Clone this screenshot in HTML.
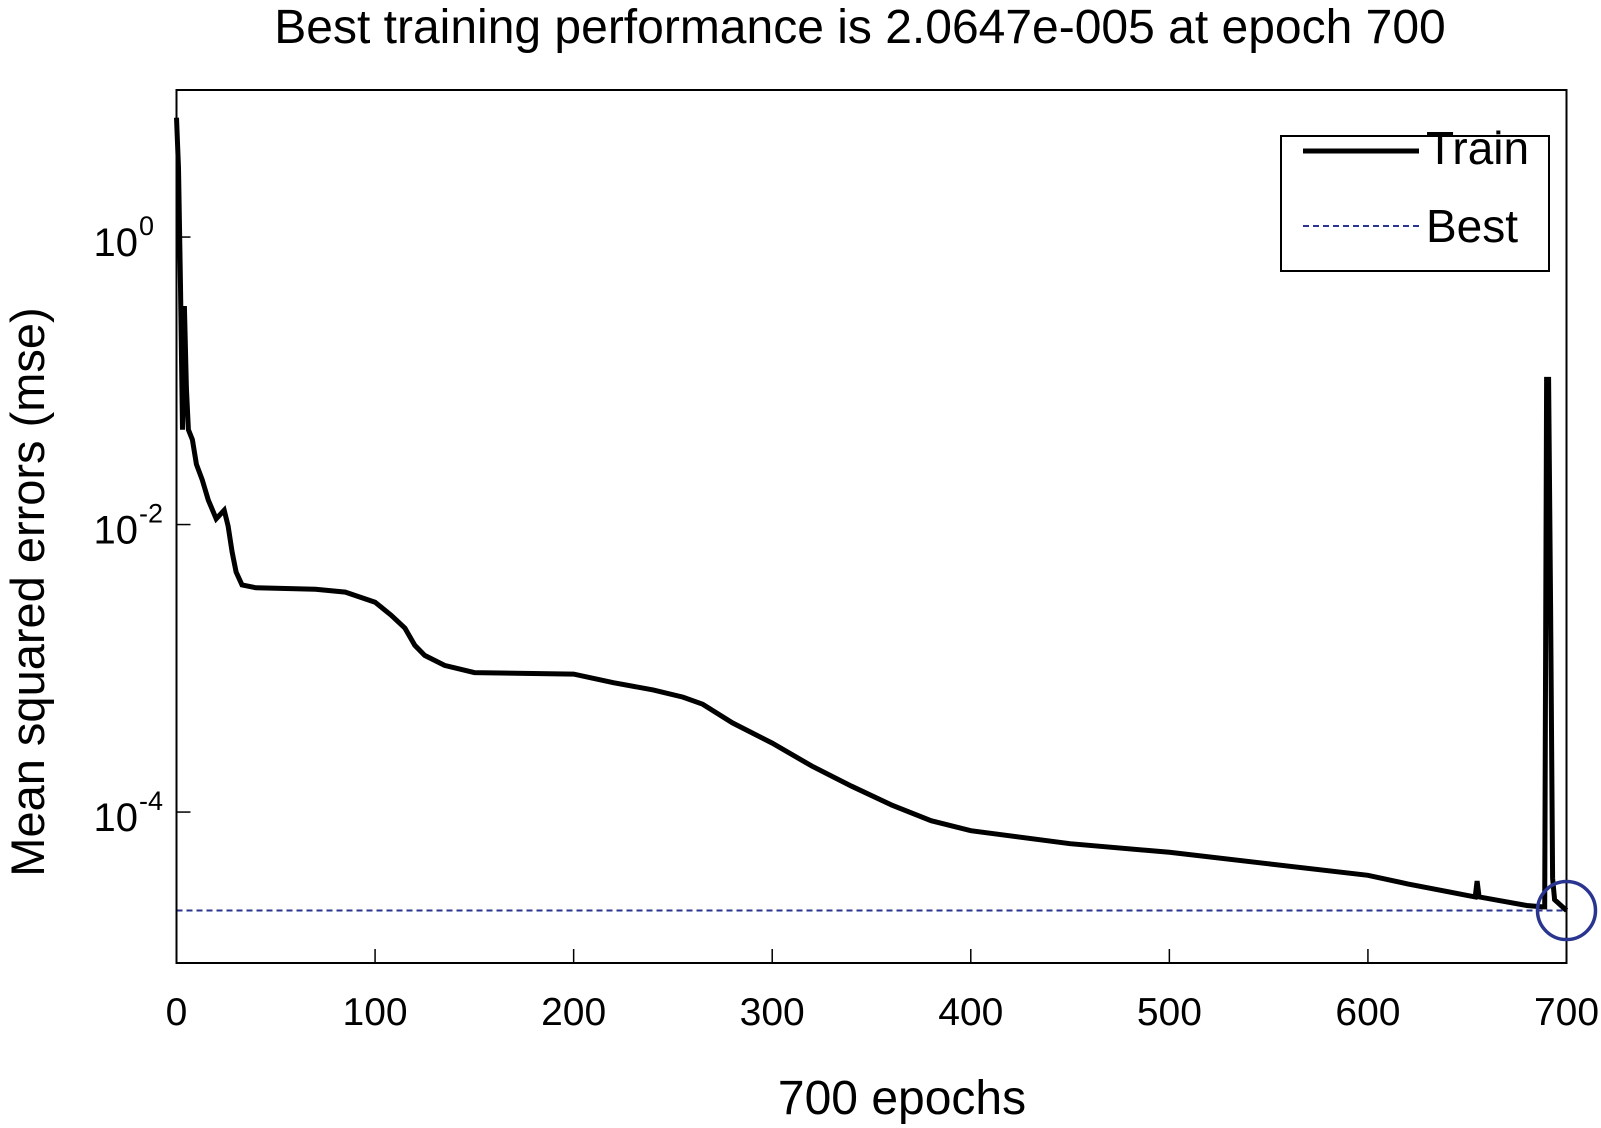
<!DOCTYPE html>
<html><head><meta charset="utf-8">
<style>
html,body{margin:0;padding:0;background:#fff;}
svg{display:block;font-family:"Liberation Sans",Arial,sans-serif;}
</style></head>
<body>
<svg id="chart" width="1601" height="1128" viewBox="0 0 1601 1128" xmlns="http://www.w3.org/2000/svg">
<rect x="0" y="0" width="1601" height="1128" fill="#fff"/>
<text x="860" y="43" font-size="48" text-anchor="middle" fill="#000">Best training performance is 2.0647e-005 at epoch 700</text>
<g id="plot"></g>
<text x="902" y="1114" font-size="48" text-anchor="middle" fill="#000">700 epochs</text>
<text transform="translate(44,592) rotate(-90)" font-size="47" text-anchor="middle" fill="#000">Mean squared errors (mse)</text>
<g>
<rect x="1281" y="136" width="268" height="135" fill="#fff" stroke="#000" stroke-width="2"/>
<line x1="1303" y1="151" x2="1419" y2="151" stroke="#000" stroke-width="5"/>
<text x="1426" y="164" font-size="46" fill="#000">Train</text>
<line x1="1303" y1="226" x2="1419" y2="226" stroke="#2a3590" stroke-width="2" stroke-dasharray="6,4"/>
<text x="1426" y="242" font-size="46" fill="#000">Best</text>
</g>
</svg>
<script>
const epochs = [0,1,2,3,4,5,6,8,10,13,16,20,24,26,28,30,33,40,70,85,100,108,115,120,125,135,150,200,220,240,255,265,280,300,320,340,360,380,400,450,500,550,600,620,650,654,655,656,680,688,689,690,691,692,693,694,700];
const logMse = [0.83,0.48,-0.34,-1.34,-0.48,-1.05,-1.34,-1.41,-1.58,-1.69,-1.83,-1.96,-1.90,-2.01,-2.19,-2.33,-2.42,-2.44,-2.45,-2.47,-2.54,-2.63,-2.72,-2.84,-2.91,-2.98,-3.03,-3.04,-3.10,-3.15,-3.20,-3.25,-3.38,-3.52,-3.68,-3.82,-3.95,-4.06,-4.13,-4.22,-4.28,-4.36,-4.44,-4.50,-4.58,-4.59,-4.48,-4.59,-4.65,-4.66,-4.66,-0.99,-0.99,-2.58,-4.46,-4.61,-4.685];
const bestEpoch = 700;
const bestMse = 2.0647e-5;
const xTicks = [0,100,200,300,400,500,600,700];
const yTickExps = [0,-2,-4];

const X0=176.5, X1=1566.5, Y0=963, Y1=90;
const xMin=0, xMax=700, lMin=-5.05, lMax=1.023;
function xs(e){return X0+(e-xMin)/(xMax-xMin)*(X1-X0);}
function ys(l){return Y0-(l-lMin)/(lMax-lMin)*(Y0-Y1);}
const NS="http://www.w3.org/2000/svg";
const g=document.getElementById('plot');
function mk(t,a){const el=document.createElementNS(NS,t);for(const k in a)el.setAttribute(k,a[k]);g.appendChild(el);return el;}

const bl=Math.log10(bestMse);
let el=mk('line',{x1:X0,y1:ys(bl),x2:xs(bestEpoch),y2:ys(bl),stroke:'#2a3590','stroke-width':2,'stroke-dasharray':'6,4'});


el=mk('line',{x1:xs(bestEpoch),y1:Y1,x2:xs(bestEpoch),y2:Y0,stroke:'#2a3590','stroke-width':2,'stroke-dasharray':'6,4'});



let d='';
epochs.forEach((e,i)=>{d+=(i?'L':'M')+xs(e).toFixed(1)+','+ys(logMse[i]).toFixed(1);});
el=mk('path',{d:d,fill:'none',stroke:'#000','stroke-width':5,'stroke-linejoin':'miter'});



el=mk('rect',{x:X0,y:Y1,width:X1-X0,height:Y0-Y1,fill:'none',stroke:'#000','stroke-width':2});



el=mk('circle',{cx:xs(bestEpoch),cy:ys(bl),r:29,fill:'none',stroke:'#2a3590','stroke-width':3.5});



xTicks.forEach(t=>{
  const x=xs(t);
  let tk=mk('line',{x1:x,y1:Y0,x2:x,y2:Y0-14,stroke:'#000','stroke-width':1.5});
  
  
  let lb=mk('text',{x:x,y:1025,'font-size':39,'text-anchor':'middle',fill:'#000'});
  lb.textContent=String(t);
  
  
});
yTickExps.forEach(p=>{
  const y=ys(p);
  let tk=mk('line',{x1:X0,y1:y,x2:X0+14,y2:y,stroke:'#000','stroke-width':1.5});
  
  
  let lb=mk('text',{x:138,y:y+19,'font-size':40,'text-anchor':'end',fill:'#000'});
  lb.textContent='10';
  
  
  let sp=mk('text',{x:139,y:y-2,'font-size':27,'text-anchor':'start',fill:'#000'});
  sp.textContent=String(p);
  
  
});
</script>
</body></html>
